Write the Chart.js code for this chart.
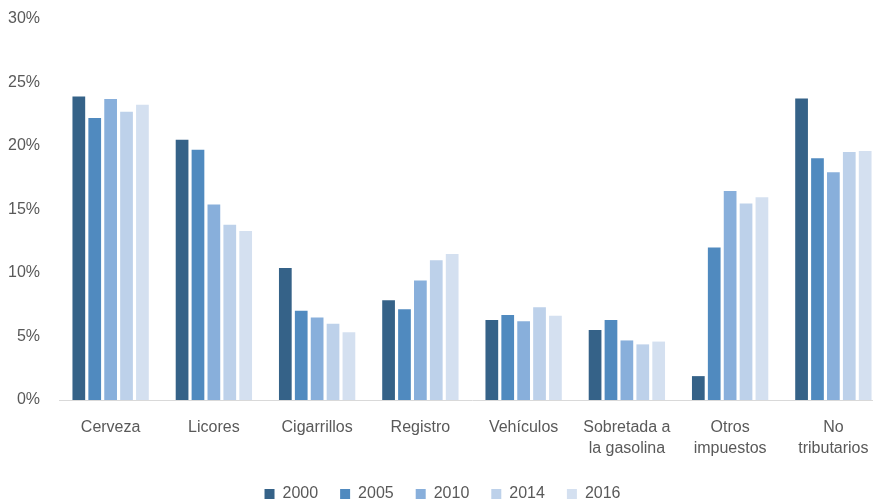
<!DOCTYPE html>
<html>
<head>
<meta charset="utf-8">
<script src="https://cdn.jsdelivr.net/npm/chart.js@4.4.1/dist/chart.umd.min.js"></script>
<style>
  html, body { margin: 0; padding: 0; background: #fff; overflow: hidden; }
  #wrap { width: 873px; height: 503px; overflow: hidden; }
</style>
</head>
<body>
<div id="wrap"><canvas id="chart" width="885" height="512"></canvas></div>
<script>
// Revenue share by source, per year (%)
const categories = [
  'Cerveza', 'Licores', 'Cigarrillos', 'Registro', 'Vehículos',
  ['Sobretada a', 'la gasolina'], ['Otros', 'impuestos'], ['No', 'tributarios']
]
const years = ['2000', '2005', '2010', '2014', '2016']
const s2000 = [23.9, 20.5, 10.4, 7.86, 6.3, 5.52, 1.88, 23.75]
const s2005 = [22.2, 19.7, 7.03, 7.14, 6.7, 6.3, 12.0, 19.03]
const s2010 = [23.7, 15.4, 6.5, 9.4, 6.2, 4.69, 16.45, 17.94]
const s2014 = [22.7, 13.8, 6.0, 11.0, 7.3, 4.38, 15.47, 19.53]
const s2016 = [23.25, 13.3, 5.34, 11.5, 6.64, 4.6, 15.96, 19.6]
const yTicks = [0, 5, 10, 15, 20, 25, 30]

const colors = ['#356288', '#508ABF', '#88AFDB', '#BDD1EA', '#D4E0F0']
const series = [s2000, s2005, s2010, s2014, s2016]

const textColor = '#595959'
const family = "'Liberation Sans', Arial, sans-serif"
const font = { family: family, size: 16, lineHeight: 1.3 }

new Chart(document.getElementById('chart'), {
  type: 'bar',
  data: {
    labels: categories,
    datasets: series.map((values, i) => ({
      label: years[i],
      data: values,
      backgroundColor: colors[i],
      borderWidth: 0,
      categoryPercentage: 0.77,
      barPercentage: 0.8
    }))
  },
  options: {
    responsive: false,
    animation: false,
    layout: { padding: { top: 16, right: 0, left: 0, bottom: 0 } },
    plugins: {
      tooltip: { enabled: false },
      legend: {
        position: 'bottom',
        labels: {
          color: textColor,
          font: font,
          boxWidth: 10,
          boxHeight: 10,
          padding: 22
        }
      }
    },
    scales: {
      x: {
        grid: { display: false },
        border: { display: true, color: '#d9d9d9', width: 1 },
        ticks: { color: textColor, font: font, padding: 9, maxRotation: 0, autoSkip: false },
        afterFit: scale => { scale.height = 64 }
      },
      y: {
        min: 0,
        max: 30,
        afterBuildTicks: scale => { scale.ticks = yTicks.map(v => ({ value: v })) },
        grid: { display: false },
        border: { display: false },
        ticks: {
          color: textColor,
          font: { family: family, size: 16, lineHeight: 1 },
          padding: 11,
          callback: v => v + '%'
        },
        afterFit: scale => { scale.width = 59 }
      }
    }
  }
})
</script>
</body>
</html>
